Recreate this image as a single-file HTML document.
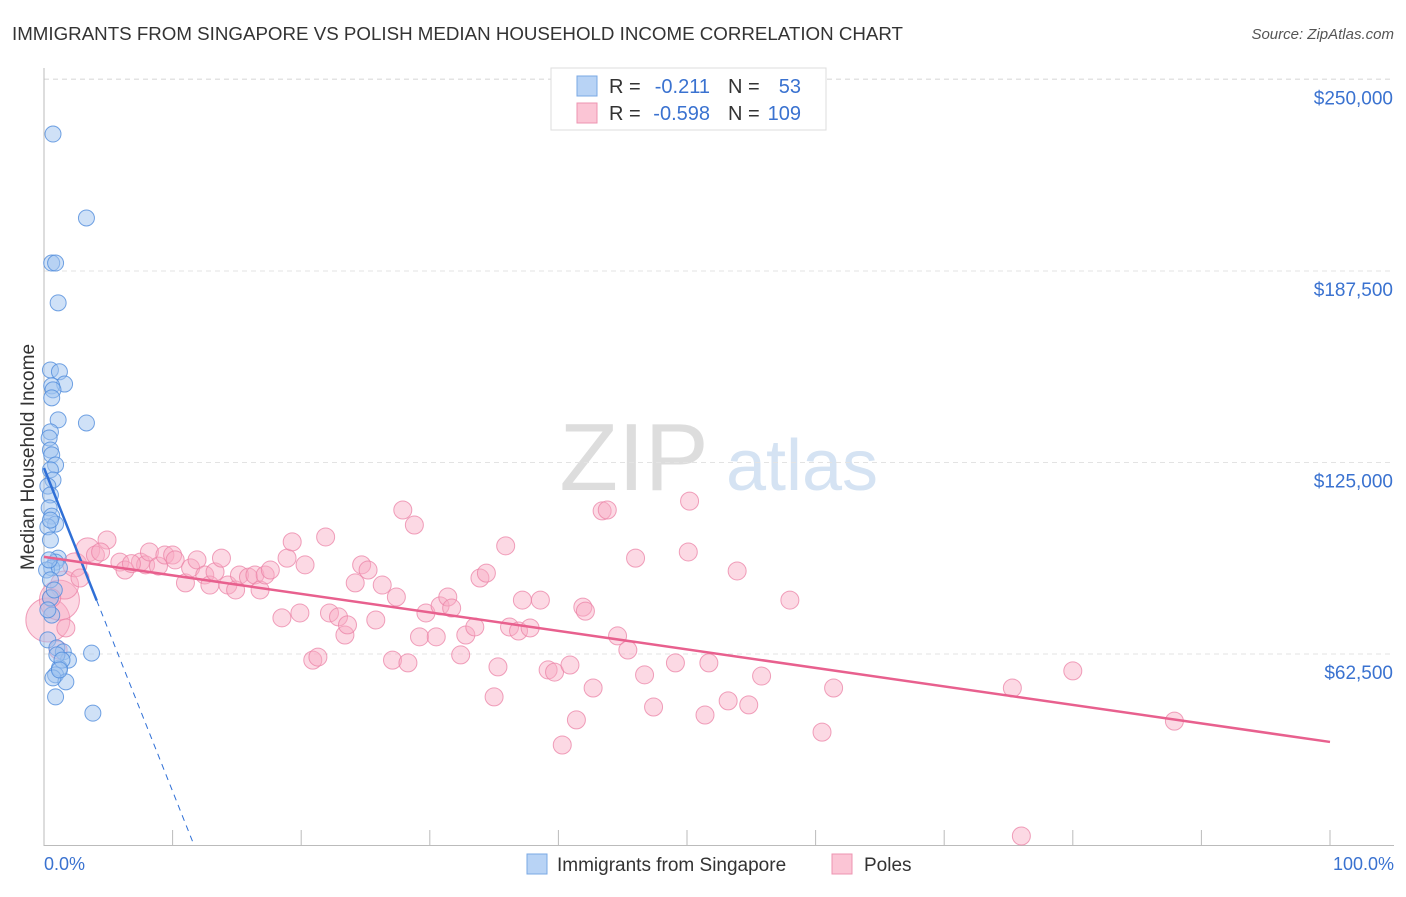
<!DOCTYPE html>
<html><head><meta charset="utf-8"><style>
body{margin:0;background:#fff;font-family:"Liberation Sans",sans-serif;}
svg text{font-family:"Liberation Sans",sans-serif;}
</style></head><body>
<svg id="c" width="1406" height="892" xmlns="http://www.w3.org/2000/svg">
<text x="12" y="40" font-size="18" fill="#333" textLength="891" lengthAdjust="spacingAndGlyphs">IMMIGRANTS FROM SINGAPORE VS POLISH MEDIAN HOUSEHOLD INCOME CORRELATION CHART</text>
<text x="1394" y="39" font-size="15" fill="#555" font-style="italic" text-anchor="end">Source: ZipAtlas.com</text>
<text x="634" y="490" font-size="96" fill="#ddd" font-family="Liberation Serif" text-anchor="middle">ZIP</text>
<text x="802" y="490" font-size="72" fill="#d5e3f3" text-anchor="middle">atlas</text>
<text transform="translate(34,457) rotate(-90)" font-size="19" fill="#333" text-anchor="middle">Median Household Income</text>
<g id="grid"></g><g id="pts"></g><g id="trend"></g>
<g>
<rect x="551" y="68" width="275" height="62" fill="#fff" stroke="#ddd"/>
<rect x="577" y="76" width="20" height="20" fill="#b8d3f5" stroke="#7aa8e4"/>
<rect x="577" y="103" width="20" height="20" fill="#fbc5d5" stroke="#ee94b1"/>
<text x="609" y="93" font-size="20" fill="#333">R =</text><text x="710" y="93" font-size="20" fill="#3a72d0" text-anchor="end">-0.211</text>
<text x="728" y="93" font-size="20" fill="#333">N =</text><text x="801" y="93" font-size="20" fill="#3a72d0" text-anchor="end">53</text>
<text x="609" y="120" font-size="20" fill="#333">R =</text><text x="710" y="120" font-size="20" fill="#3a72d0" text-anchor="end">-0.598</text>
<text x="728" y="120" font-size="20" fill="#333">N =</text><text x="801" y="120" font-size="20" fill="#3a72d0" text-anchor="end">109</text>
</g>
<g>
<rect x="527" y="854" width="20" height="20" fill="#b8d3f5" stroke="#7aa8e4"/>
<text x="557" y="871" font-size="19" fill="#333">Immigrants from Singapore</text>
<rect x="832" y="854" width="20" height="20" fill="#fbc5d5" stroke="#ee94b1"/>
<text x="864" y="871" font-size="19" fill="#333">Poles</text>
</g>
<text x="44" y="870" font-size="18" fill="#3a72d0">0.0%</text>
<text x="1394" y="870" font-size="18" fill="#3a72d0" text-anchor="end">100.0%</text>
</svg>
<script>
const yTicks=[62500,125000,187500,250000];
const yTickLabels=["$62,500","$125,000","$187,500","$250,000"];
const xTicks=[0,10,20,30,40,50,60,70,80,90,100];
const blueX=[0.7,3.3,0.6,0.9,1.1,0.5,1.2,1.6,0.6,0.7,0.6,1.1,3.3,0.5,0.4,0.5,0.6,0.9,0.5,0.7,0.3,0.5,0.4,0.6,0.9,0.3,1.1,0.9,0.6,0.2,1.2,0.5,0.6,0.3,1.0,1.5,1.9,3.7,1.2,0.9,1.7,0.9,3.8,0.5,0.8,0.3,0.5,1.0,1.4,0.7,1.2,0.4,0.5];
const blueY=[232.2,204.8,190.1,190.1,177.1,155.2,154.6,150.6,150.0,148.7,146.1,138.9,137.9,135.0,133.0,129.1,127.5,124.2,122.6,119.3,117.3,114.4,110.2,107.5,104.9,104.0,93.8,92.5,90.6,89.9,90.6,80.8,75.2,67.1,64.5,63.2,60.5,62.8,57.9,55.7,53.4,48.5,43.2,86.7,83.4,76.9,99.7,62.2,60.5,54.7,57.3,93.2,106.2];
const pinkX=[0.3,1.2,1.6,2.4,3.4,4.0,4.9,4.4,5.9,6.3,7.5,7.9,8.2,8.9,9.4,10.0,10.2,11.0,11.4,11.9,12.5,12.9,13.3,13.8,14.3,14.9,15.2,15.9,16.4,16.8,17.2,17.6,18.5,18.9,19.3,19.9,20.3,20.9,21.3,21.9,22.2,22.9,23.4,23.6,24.2,24.7,25.2,25.8,26.3,27.1,27.4,27.9,28.3,28.8,29.2,29.7,30.5,30.8,31.4,31.7,32.4,32.8,33.5,33.9,34.4,35.0,35.3,35.9,36.2,36.9,37.2,37.8,38.6,39.2,39.7,40.3,40.9,41.4,41.9,42.1,42.7,43.4,43.8,44.6,45.4,46.0,46.7,47.4,49.1,50.2,50.1,51.4,51.7,53.2,53.9,54.8,55.8,58.0,60.5,61.4,75.3,76.0,80.0,87.9,1.1,1.7,0.6,2.8,6.8];
const pinkY=[73.6,80.1,85.0,91.6,96.5,94.8,99.7,95.8,92.5,89.9,92.5,91.6,95.8,91.2,94.8,94.8,93.2,85.7,90.6,93.2,88.3,85.0,89.3,93.8,85.0,83.4,88.3,87.6,88.3,83.4,88.3,89.9,74.3,93.8,99.1,75.9,91.6,60.5,61.5,100.7,75.9,74.6,68.7,72.0,85.7,91.6,89.9,73.6,85.0,60.5,81.1,109.5,59.6,104.6,68.1,75.9,68.1,78.2,81.1,77.5,62.2,68.7,71.3,87.3,88.9,48.5,58.3,97.8,71.3,70.0,80.1,71.0,80.1,57.3,56.6,32.8,58.9,41.0,77.8,76.5,51.4,109.2,109.5,68.4,63.8,93.8,55.7,45.2,59.6,112.4,95.8,42.6,59.6,47.2,89.6,45.9,55.3,80.1,37.0,51.4,51.4,3.1,57.0,40.6,63.8,71.0,80.8,87.3,92.0];
const pinkSize=[22,20,14,12,12];
const blueTrend=[123.2,-10.55];
const pinkTrend=[94.2,33.8];
const NS="http://www.w3.org/2000/svg";
const X=v=>44+v*12.86;
const Y=v=>845.5-v*191.5/62.5;
function mk(t,a,p){const e=document.createElementNS(NS,t);for(const k in a)e.setAttribute(k,a[k]);p.appendChild(e);return e;}
const grid=document.getElementById('grid'),pts=document.getElementById('pts'),tr=document.getElementById('trend');
yTicks.forEach((t,i)=>{const y=Y(t/1000);
const l=mk('line',{x1:44,x2:1394,y1:y,y2:y,stroke:'#e3e3e3','stroke-dasharray':'5,4'},grid);


const tx=mk('text',{x:1393,y:y+25,'font-size':19,fill:'#3a72d0','text-anchor':'end'},grid);
tx.textContent=yTickLabels[i];

});
mk('line',{x1:44,x2:1394,y1:79,y2:79,stroke:'#e3e3e3','stroke-dasharray':'5,4'},grid);
mk('line',{x1:44,x2:44,y1:68,y2:846,stroke:'#bbb'},grid);
const ax=mk('line',{x1:44,x2:1394,y1:845.5,y2:845.5,stroke:'#bbb'},grid);


xTicks.forEach(t=>{const x=X(t);const l=mk('line',{x1:x,x2:x,y1:830,y2:845,stroke:'#bbb'},grid);

});
pinkX.forEach((v,i)=>{const c=mk('circle',{cx:X(v),cy:Y(pinkY[i]),r:pinkSize[i]||9,fill:'rgba(248,170,195,0.45)',stroke:'rgba(235,130,165,0.75)','stroke-width':1},pts);

});
blueX.forEach((v,i)=>{const c=mk('circle',{cx:X(v),cy:Y(blueY[i]),r:8,fill:'rgba(160,195,240,0.5)',stroke:'rgba(80,140,220,0.8)','stroke-width':1},pts);

});
const bEnd=4.1,bZero=-blueTrend[0]/blueTrend[1];
const b1=mk('line',{x1:X(0),y1:Y(blueTrend[0]),x2:X(bEnd),y2:Y(blueTrend[0]+blueTrend[1]*bEnd),stroke:'#2f6fd6','stroke-width':2.5},tr);


const b2=mk('line',{x1:X(bEnd),y1:Y(blueTrend[0]+blueTrend[1]*bEnd),x2:X(bZero),y2:Y(0),stroke:'#2f6fd6','stroke-width':1,'stroke-dasharray':'6,5'},tr);


const p1=mk('line',{x1:X(0),y1:Y(pinkTrend[0]),x2:X(100),y2:Y(pinkTrend[1]),stroke:'#e8608e','stroke-width':2.5},tr);


</script>
</body></html>
